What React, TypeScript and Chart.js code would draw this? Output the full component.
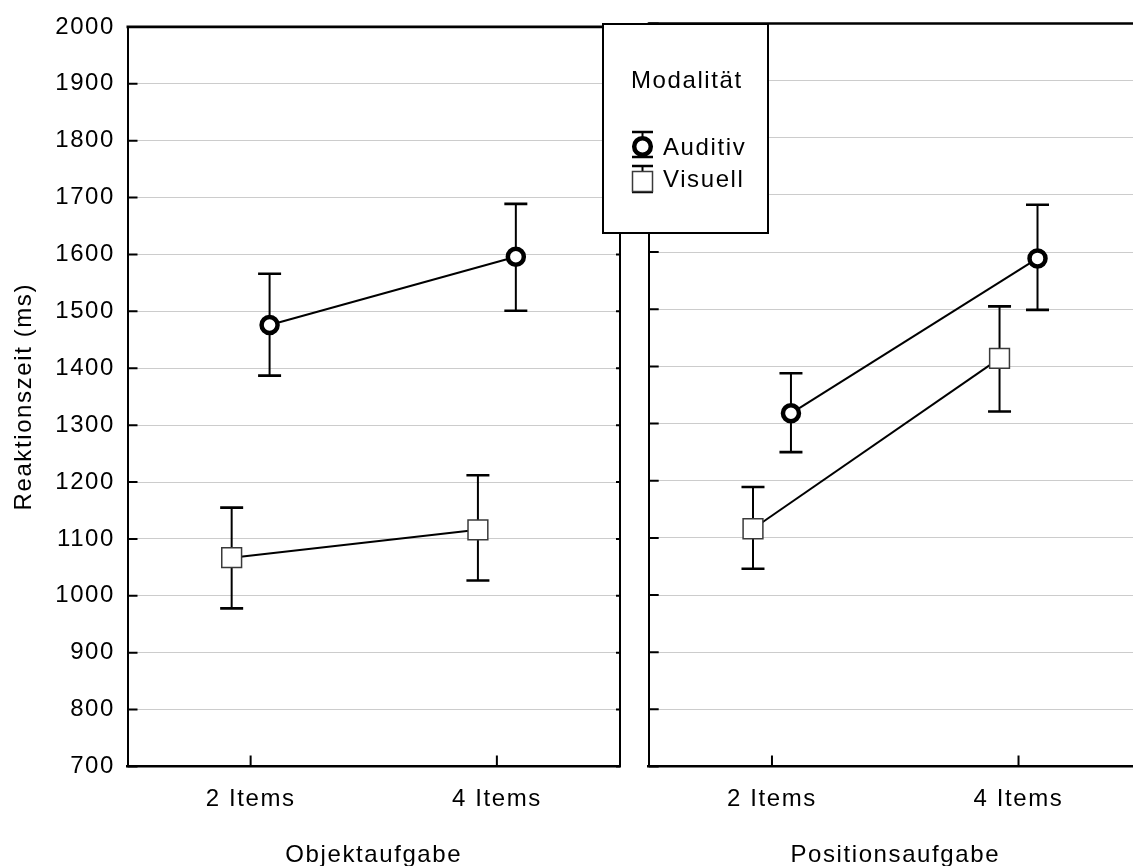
import React, { useEffect, useRef } from "react";
import { Chart, registerables } from "chart.js";

Chart.register(...registerables);

const FONT = '"Liberation Sans", Arial, Helvetica, sans-serif';
const TEXT_SIZE = 24;
const TEXT_SPACING = "1.6px";

// Categories along each panel's x axis
const categories = ["2 Items", "4 Items"];
const seriesNames = ["Auditiv", "Visuell"];
const panelTitles = ["Objektaufgabe", "Positionsaufgabe"];
const legendTitle = "Modalität";
const yTitle = "Reaktionszeit (ms)";
const yMin = 700;
const yMax = 2000;
const yStep = 100;

// Objektaufgabe: means and error-bar limits (ms)
const objAuditivMean = [1476, 1596];
const objAuditivLow = [1387, 1501];
const objAuditivHigh = [1566, 1689];
const objVisuellMean = [1067, 1116];
const objVisuellLow = [978, 1027];
const objVisuellHigh = [1155, 1212];

// Positionsaufgabe: means and error-bar limits (ms)
const posAuditivMean = [1318, 1589];
const posAuditivLow = [1250, 1499];
const posAuditivHigh = [1388, 1683];
const posVisuellMean = [1116, 1414];
const posVisuellLow = [1046, 1321];
const posVisuellHigh = [1189, 1505];

// horizontal offset of the two groups around each category position
const DODGE = 0.077;
const CAP_HALF = 11.5;

type Series = { mean: number[]; low: number[]; high: number[] };

const spacingPlugin = {
  id: "textSpacing",
  beforeDraw(chart: any) {
    chart.ctx.letterSpacing = TEXT_SPACING;
  },
};

const errorBarPlugin = {
  id: "errorBars",
  beforeDatasetsDraw(chart: any) {
    const { ctx } = chart;
    const xs = chart.scales.x;
    const ys = chart.scales.y;
    ctx.save();
    ctx.strokeStyle = "#000";
    chart.data.datasets.forEach((ds: any) => {
      ds.data.forEach((pt: any, i: number) => {
        const px = xs.getPixelForValue(pt.x);
        const top = ys.getPixelForValue(ds.errHigh[i]);
        const bot = ys.getPixelForValue(ds.errLow[i]);
        ctx.lineWidth = 2;
        ctx.beginPath();
        ctx.moveTo(px, top);
        ctx.lineTo(px, bot);
        ctx.stroke();
        ctx.lineWidth = 2.6;
        ctx.beginPath();
        ctx.moveTo(px - CAP_HALF, top);
        ctx.lineTo(px + CAP_HALF, top);
        ctx.moveTo(px - CAP_HALF, bot);
        ctx.lineTo(px + CAP_HALF, bot);
        ctx.stroke();
      });
    });
    ctx.restore();
  },
};

// top/right frame and the inward-pointing tick marks
const framePlugin = {
  id: "frame",
  afterDraw(chart: any, _args: any, opts: any) {
    const { ctx, chartArea } = chart;
    const { left, right, top, bottom } = chartArea;
    const xs = chart.scales.x;
    const ys = chart.scales.y;
    ctx.save();
    ctx.strokeStyle = "#000";
    ctx.lineWidth = 2.6;
    ctx.beginPath();
    ctx.moveTo(left - 1, top);
    ctx.lineTo(right + 1, top);
    ctx.stroke();
    ctx.lineWidth = 2;
    ctx.beginPath();
    ctx.moveTo(right, top);
    ctx.lineTo(right, bottom);
    ys.ticks.forEach((t: any) => {
      const py = ys.getPixelForValue(t.value);
      ctx.moveTo(left, py);
      ctx.lineTo(left + 10, py);
      if (opts.rightTicks) {
        ctx.moveTo(right - 4, py);
        ctx.lineTo(right, py);
      }
    });
    xs.ticks.forEach((t: any) => {
      const px = xs.getPixelForValue(t.value);
      ctx.moveTo(px, bottom);
      ctx.lineTo(px, bottom - 11);
    });
    ctx.stroke();
    ctx.restore();
  },
};

function drawCircleMarker(ctx: CanvasRenderingContext2D, x: number, y: number) {
  ctx.beginPath();
  ctx.arc(x, y, 8.3, 0, Math.PI * 2);
  ctx.fillStyle = "#fff";
  ctx.fill();
  ctx.lineWidth = 4.5;
  ctx.strokeStyle = "#000";
  ctx.stroke();
}

function drawSquareMarker(ctx: CanvasRenderingContext2D, x: number, y: number) {
  ctx.fillStyle = "#fff";
  ctx.fillRect(x - 10, y - 10, 20, 20);
  ctx.lineWidth = 1.5;
  ctx.strokeStyle = "#3a3a3a";
  ctx.strokeRect(x - 10, y - 10, 20, 20);
}

function drawLegendBar(ctx: CanvasRenderingContext2D, x: number, top: number, bot: number) {
  ctx.beginPath();
  ctx.strokeStyle = "#000";
  ctx.lineWidth = 2;
  ctx.moveTo(x, top);
  ctx.lineTo(x, bot);
  ctx.stroke();
  ctx.lineWidth = 2.6;
  ctx.beginPath();
  ctx.moveTo(x - 10.5, top);
  ctx.lineTo(x + 10.5, top);
  ctx.moveTo(x - 10.5, bot);
  ctx.lineTo(x + 10.5, bot);
  ctx.stroke();
}

// boxed legend for the Modalität factor, drawn in page coordinates
const legendPlugin = {
  id: "modalLegend",
  afterDraw(chart: any, _args: any, opts: any) {
    if (!opts || !opts.show) return;
    const { ctx } = chart;
    const ox = opts.offsetLeft;
    ctx.save();
    ctx.translate(-ox, 0);
    ctx.fillStyle = "#fff";
    ctx.fillRect(603, 24, 165, 209);
    ctx.lineWidth = 2;
    ctx.strokeStyle = "#000";
    ctx.strokeRect(603, 24, 165, 209);

    ctx.letterSpacing = TEXT_SPACING;
    ctx.font = `${TEXT_SIZE}px ${FONT}`;
    ctx.fillStyle = "#000";
    ctx.textBaseline = "middle";
    ctx.textAlign = "left";
    ctx.fillText(legendTitle, 631, 81);

    const mx = 642.5;
    drawLegendBar(ctx, mx, 132, 157);
    drawCircleMarker(ctx, mx, 146.5);
    drawLegendBar(ctx, mx, 166, 192);
    drawSquareMarker(ctx, mx, 181.5);

    ctx.fillStyle = "#000";
    ctx.fillText(seriesNames[0], 663, 148);
    ctx.fillText(seriesNames[1], 663, 180);
    ctx.restore();
  },
};

function makeDatasets(auditiv: Series, visuell: Series) {
  return [
    {
      label: seriesNames[0],
      data: categories.map((_, i) => ({ x: i + 0.5 + DODGE, y: auditiv.mean[i] })),
      errLow: auditiv.low,
      errHigh: auditiv.high,
      borderColor: "#000",
      borderWidth: 2,
      pointStyle: "circle",
      pointRadius: 8,
      pointBorderWidth: 4.5,
      pointBackgroundColor: "#fff",
      pointBorderColor: "#000",
      tension: 0,
      fill: false,
    },
    {
      label: seriesNames[1],
      data: categories.map((_, i) => ({ x: i + 0.5 - DODGE, y: visuell.mean[i] })),
      errLow: visuell.low,
      errHigh: visuell.high,
      borderColor: "#000",
      borderWidth: 2,
      pointStyle: "rect",
      pointRadius: 14,
      pointBorderWidth: 1.5,
      pointBackgroundColor: "#fff",
      pointBorderColor: "#3a3a3a",
      tension: 0,
      fill: false,
    },
  ];
}

type PanelOpts = {
  title: string;
  auditiv: Series;
  visuell: Series;
  showYAxis: boolean;
  axisWidth: number;
  padRight: number;
  rightTicks: boolean;
  legend: boolean;
  offsetLeft: number;
};

function makeConfig(p: PanelOpts): any {
  return {
    type: "line",
    data: { datasets: makeDatasets(p.auditiv, p.visuell) },
    plugins: [spacingPlugin, errorBarPlugin, framePlugin, legendPlugin],
    options: {
      responsive: false,
      animation: false,
      events: [],
      font: { family: FONT, size: TEXT_SIZE },
      layout: { padding: { top: 23.5, right: p.padRight, bottom: 0, left: 0 } },
      plugins: {
        legend: { display: false },
        tooltip: { enabled: false },
        frame: { rightTicks: p.rightTicks },
        modalLegend: { show: p.legend, offsetLeft: p.offsetLeft },
      },
      scales: {
        x: {
          type: "linear",
          min: 0,
          max: categories.length,
          afterBuildTicks: (scale: any) => {
            scale.ticks = categories.map((_, i) => ({ value: i + 0.5 }));
          },
          afterFit: (scale: any) => {
            scale.height = 99.5;
          },
          grid: { display: false, drawTicks: false },
          border: { display: true, color: "#000", width: 2.6 },
          ticks: {
            color: "#000",
            font: { family: FONT, size: TEXT_SIZE },
            padding: 18,
            maxRotation: 0,
            autoSkip: false,
            callback: (_v: any, i: number) => categories[i],
          },
          title: {
            display: true,
            text: p.title,
            color: "#000",
            font: { family: FONT, size: TEXT_SIZE, lineHeight: 0.9 },
            padding: 0,
          },
        },
        y: {
          type: "linear",
          min: yMin,
          max: yMax,
          afterFit: (scale: any) => {
            scale.width = p.axisWidth;
          },
          grid: { display: true, color: "#cccccc", lineWidth: 1, drawTicks: false },
          border: { display: true, color: "#000", width: 2 },
          ticks: {
            display: p.showYAxis,
            stepSize: yStep,
            color: "#000",
            font: { family: FONT, size: TEXT_SIZE },
            padding: 12.5,
            callback: (v: any) => String(v),
          },
          title: {
            display: p.showYAxis,
            text: yTitle,
            color: "#000",
            font: { family: FONT, size: TEXT_SIZE },
            padding: { top: 10, bottom: 0 },
          },
        },
      },
    },
  };
}

function Panel({ opts, left, width, height }: { opts: PanelOpts; left: number; width: number; height: number }) {
  const ref = useRef<HTMLCanvasElement>(null);
  useEffect(() => {
    if (!ref.current) return;
    const chart = new Chart(ref.current, makeConfig(opts));
    return () => chart.destroy();
  }, []);
  return (
    <canvas
      ref={ref}
      width={width}
      height={height}
      style={{ position: "absolute", left, top: 0, width, height, display: "block" }}
    />
  );
}

const leftPanel: PanelOpts = {
  title: panelTitles[0],
  auditiv: { mean: objAuditivMean, low: objAuditivLow, high: objAuditivHigh },
  visuell: { mean: objVisuellMean, low: objVisuellLow, high: objVisuellHigh },
  showYAxis: true,
  axisWidth: 127.5,
  padRight: 20,
  rightTicks: true,
  legend: false,
  offsetLeft: 0,
};

const rightPanel: PanelOpts = {
  title: panelTitles[1],
  auditiv: { mean: posAuditivMean, low: posAuditivLow, high: posAuditivHigh },
  visuell: { mean: posVisuellMean, low: posVisuellLow, high: posVisuellHigh },
  showYAxis: false,
  axisWidth: 48.7,
  padRight: 18.2,
  rightTicks: false,
  legend: true,
  offsetLeft: 600,
};

export default function App() {
  return (
    <div
      style={{
        position: "absolute",
        left: 0,
        top: 0,
        width: 1133,
        height: 866,
        overflow: "hidden",
        background: "#fff",
      }}
    >
      <Panel opts={leftPanel} left={0} width={640} height={866} />
      <Panel opts={rightPanel} left={600} width={560} height={866} />
    </div>
  );
}
